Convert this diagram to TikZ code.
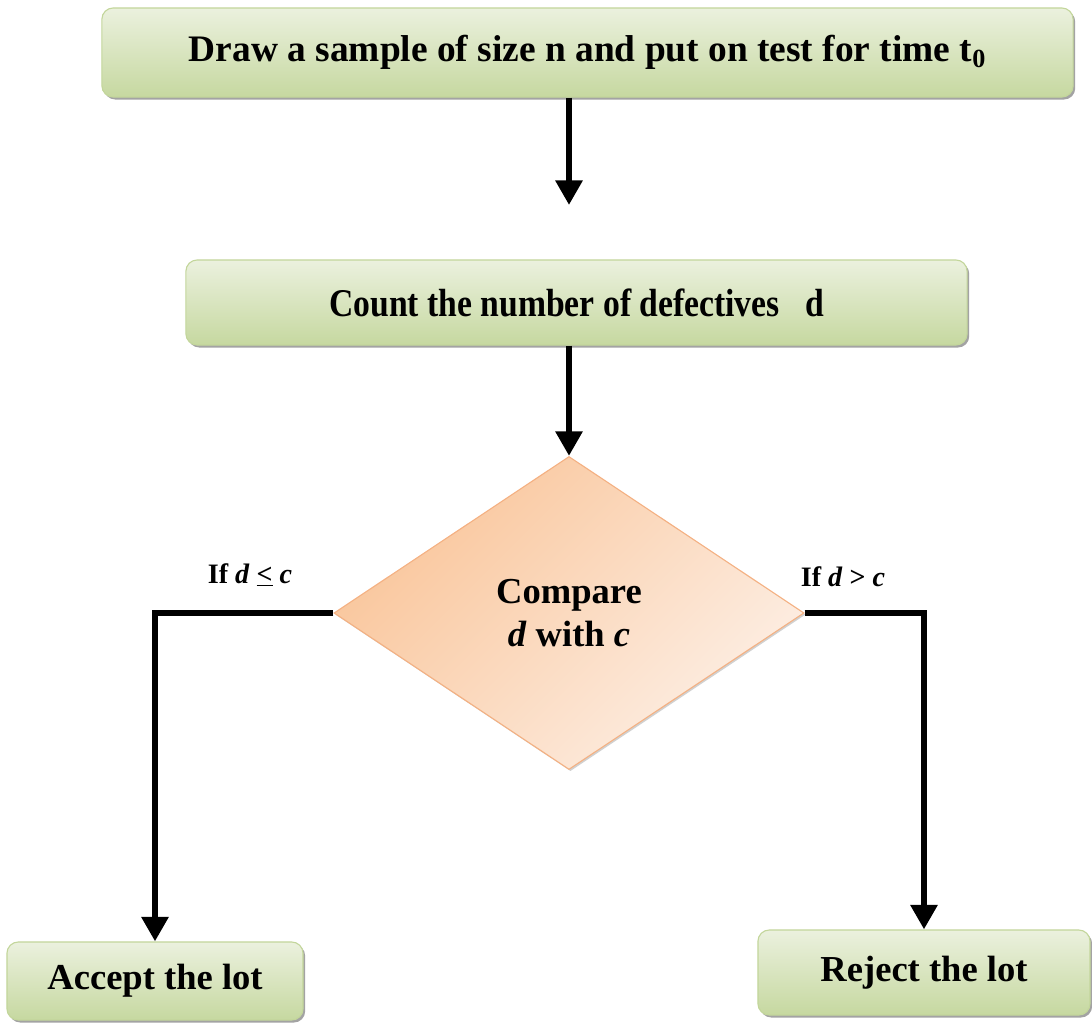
\documentclass[tikz,border=0pt]{standalone}
\usepackage{fontspec}
\setmainfont{Liberation Serif}
\usetikzlibrary{shapes.geometric,shadows,arrows.meta}
\definecolor{boxlight}{HTML}{EBF1DE}
\definecolor{boxdark}{HTML}{C6D8A0}
\definecolor{boxline}{HTML}{C3D69B}
\definecolor{decdark}{HTML}{F9C59A}
\definecolor{declight}{HTML}{FDEFE5}
\definecolor{decline}{HTML}{F4B183}
\tikzset{stepbox/.style={draw=boxline, thick, rounded corners=8pt, top color=boxlight, bottom color=boxdark,
    drop shadow={shadow xshift=1.5pt, shadow yshift=-1.8pt, fill=black!45, opacity=0.8},
    inner sep=0pt, font=\bfseries\fontsize{26.6}{32}\selectfont},
  decide/.style={diamond, draw=decline, thick, left color=decdark, right color=declight, shading angle=45,
    drop shadow={shadow xshift=1pt, shadow yshift=-1.2pt, fill=black!30, opacity=0.6},
    inner sep=0pt, align=center, font=\bfseries\fontsize{26}{31}\selectfont},
  flow/.style={line width=4.3pt, -{Triangle[width=18.5pt,length=17.5pt]}},
  cond/.style={font=\bfseries\fontsize{20}{24}\selectfont}}

\begin{document}
\begin{tikzpicture}[x=0.025cm,y=-0.025cm]
    \useasboundingbox (0,0) rectangle (1092,1023);

    \node[stepbox, minimum width=24.275cm, minimum height=2.225cm](draw)at(587.5,52.5){Draw a sample of size n and put on test for time t\textsubscript{0}};
    \node[stepbox, minimum width=19.525cm, minimum height=2.125cm](count)at(576.5,302.5){\scalebox{0.9}[1.05]{Count the number of defectives\ \ \ d}};
    \node[decide, minimum width=11.75cm, minimum height=7.825cm](compare)at(569,613){Compare\\\textit{d} with \textit{c}};
    \node[stepbox, minimum width=7.4cm, minimum height=1.95cm, font=\bfseries\fontsize{26}{31}\selectfont](accept)at(155,981){Accept the lot};
    \node[stepbox, minimum width=8.3cm, minimum height=2.125cm, font=\bfseries\fontsize{26}{31}\selectfont](reject)at(924,972.5){Reject the lot};

    \coordinate(gap)at(569,205);
    \node[cond](le)at(250,575){If \textit{d} \underline{<} \textit{c}};
    \node[cond](gt)at(843,577){If \textit{d} > \textit{c}};

    \draw[flow](compare.north |- draw.south)--(gap);
    \draw[flow](compare.north |- count.south)--(compare.north);
    \draw[flow](compare.west)-|(accept.north);
    \draw[flow](compare.east)-|(reject.north);
\end{tikzpicture}
\end{document}
